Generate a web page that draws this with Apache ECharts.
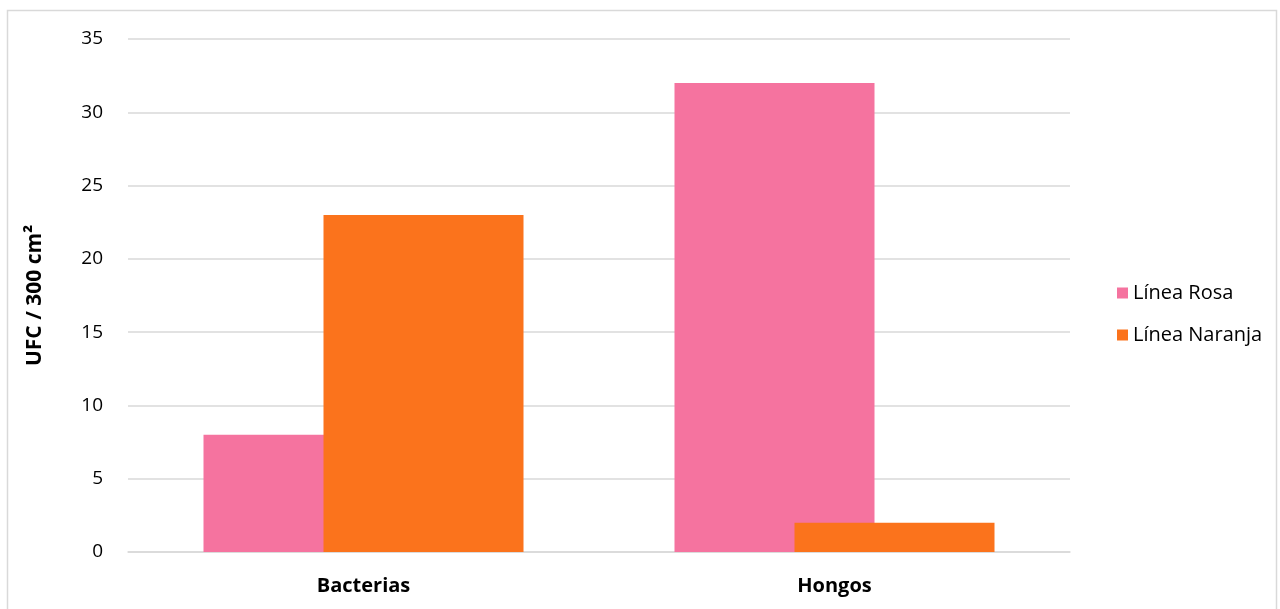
<!DOCTYPE html>
<html>
<head>
<meta charset="utf-8">
<script src="https://cdn.jsdelivr.net/npm/echarts@6/dist/echarts.min.js"></script>
<style>html,body{margin:0;padding:0;background:#fff}#c{width:1280px;height:609px}</style>
</head>
<body>
<div id="c"></div>
<script>
const categories = ['Bacterias', 'Hongos'];
const seriesNames = ['Línea Rosa', 'Línea Naranja'];
const rosa = [8, 32];
const naranja = [23, 2];
const yTicks = { min: 0, max: 35, interval: 5 };
const colors = ['#F5739F', '#FB731C'];

const chart = echarts.init(document.getElementById('c'), null, { renderer: 'canvas' });
const font = '"Open Sans", Lato, sans-serif';
chart.setOption({
  animation: false,
  backgroundColor: '#fff',
  color: colors,
  graphic: [{
    type: 'rect', shape: { x: 7.5, y: 10.5, width: 1269, height: 620 },
    style: { fill: 'none', stroke: '#d9d9d9', lineWidth: 1.5 }, silent: true, z: -1
  }],
  grid: { left: 128, right: 210, top: 39, bottom: 57 },
  legend: {
    orient: 'vertical', left: 1112, top: 278,
    itemWidth: 11, itemHeight: 11, itemGap: 22, icon: 'rect',
    textStyle: { fontFamily: font, fontSize: 20, color: '#000', padding: [0, 0, 0, 0] },
    data: seriesNames
  },
  xAxis: {
    type: 'category', data: categories,
    axisLine: { show: true, lineStyle: { color: '#d9d9d9', width: 1.5 } },
    axisTick: { show: false },
    axisLabel: { fontFamily: font, fontSize: 20, fontWeight: 'bold', color: '#000', margin: 24 }
  },
  yAxis: {
    type: 'value', min: yTicks.min, max: yTicks.max, interval: yTicks.interval,
    name: 'UFC / 300 cm²', nameLocation: 'middle', nameGap: 82, nameRotate: 90,
    nameTextStyle: { fontFamily: font, fontSize: 21, fontWeight: 'bold', color: '#000' },
    axisLine: { show: false }, axisTick: { show: false },
    axisLabel: { fontFamily: font, fontSize: 19, color: '#000', margin: 25 },
    splitLine: { lineStyle: { color: '#d9d9d9', width: 1.5 } }
  },
  series: [
    { name: seriesNames[0], type: 'bar', data: rosa, barWidth: 200, barGap: '-40%', itemStyle: { color: colors[0] } },
    { name: seriesNames[1], type: 'bar', data: naranja, barWidth: 200, barGap: '-40%', itemStyle: { color: colors[1] } }
  ]
});
</script>
</body>
</html>
